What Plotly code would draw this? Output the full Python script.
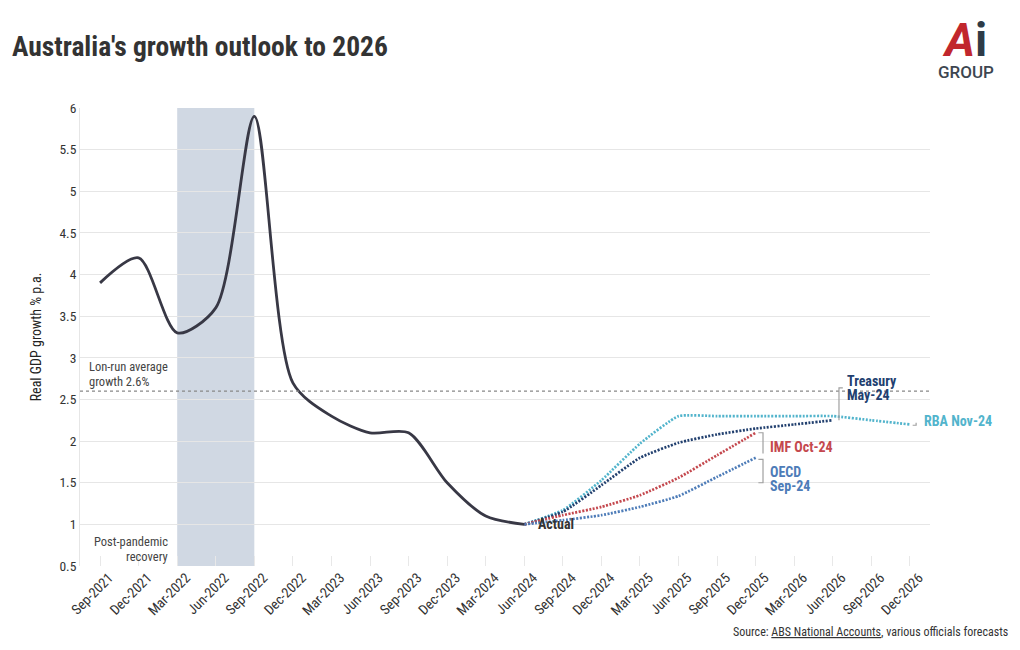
import plotly.graph_objects as go

quarters = ["Sep-2021", "Dec-2021", "Mar-2022", "Jun-2022", "Sep-2022", "Dec-2022",
            "Mar-2023", "Jun-2023", "Sep-2023", "Dec-2023", "Mar-2024", "Jun-2024",
            "Sep-2024", "Dec-2024", "Mar-2025", "Jun-2025", "Sep-2025", "Dec-2025",
            "Mar-2026", "Jun-2026", "Sep-2026", "Dec-2026"]

actual = [3.9, 4.2, 3.3, 3.6, 5.9, 2.7, 2.3, 2.1, 2.1, 1.5, 1.1, 1.0]

rba_nov24 = [1.0, 1.17, 1.53, 1.97, 2.3, 2.3, 2.3, 2.3, 2.3, 2.25, 2.2]        # Jun-2024 .. Dec-2026
treasury_may24 = [1.0, 1.15, 1.47, 1.8, 1.98, 2.08, 2.15, 2.2, 2.25]           # Jun-2024 .. Jun-2026
imf_oct24 = [1.0, 1.11, 1.21, 1.35, 1.56, 1.83, 2.1]                          # Jun-2024 .. Dec-2025
oecd_sep24 = [1.0, 1.05, 1.11, 1.21, 1.34, 1.57, 1.8]                         # Jun-2024 .. Dec-2025

long_run_avg = 2.6
shade_start, shade_end = "Mar-2022", "Sep-2022"

FONT = "Liberation Sans Narrow, Roboto Condensed, Roboto, sans-serif"
idx = {q: i for i, q in enumerate(quarters)}
start = idx["Jun-2024"]

C_ACT = "#383845"
C_RBA = "#52b4cc"
C_TRE = "#22406f"
C_IMF = "#c4484e"
C_OECD = "#4d7cb8"
DOT = "2px,1.5px"

fig = go.Figure()

def xs(n, s=start):
    return list(range(s, s + n))

for vals, col, nm in [(rba_nov24, C_RBA, "RBA Nov-24"), (treasury_may24, C_TRE, "Treasury May-24"),
                      (imf_oct24, C_IMF, "IMF Oct-24"), (oecd_sep24, C_OECD, "OECD Sep-24")]:
    fig.add_trace(go.Scatter(x=xs(len(vals)), y=vals, mode="lines", name=nm,
                             line=dict(color=col, width=2.7, dash=DOT, shape="spline", smoothing=0.45)))
fig.add_trace(go.Scatter(x=xs(len(actual), 0), y=actual, mode="lines", name="Actual",
                         line=dict(color=C_ACT, width=2.8, shape="spline", smoothing=0.8)))

# shaded recovery period
fig.add_shape(type="rect", xref="x", yref="paper", x0=idx[shade_start], x1=idx[shade_end],
              y0=0, y1=1, fillcolor="#d0d8e3", line_width=0, layer="below")
# long-run average line
fig.add_shape(type="line", xref="paper", yref="y", x0=0, x1=1, y0=long_run_avg, y1=long_run_avg,
              line=dict(color="#888888", width=1.3, dash="dot"))

# label brackets
br = dict(color="#a0a0a0", width=1.2)
fig.add_shape(type="path", path="M 19.16 2.25 L 19.16 2.64 L 19.26 2.64", line=br)
fig.add_shape(type="path", path="M 17.07 2.10 L 17.19 2.10 L 17.19 1.85", line=br)
fig.add_shape(type="path", path="M 17.07 1.78 L 17.19 1.78 L 17.19 1.50 L 17.07 1.50", line=br)
fig.add_shape(type="path", path="M 21.07 2.19 L 21.16 2.19 L 21.16 2.22", line=br)

ann = []
def lab(x, y, t, color, size=14, bold=True, xanchor="left"):
    ann.append(dict(x=x, y=y, xref="x", yref="y", text=f"<b>{t}</b>" if bold else t,
                    showarrow=False, xanchor=xanchor, yanchor="middle",
                    font=dict(family=FONT, size=size, color=color)))

lab(19.32, 2.72, "Treasury", C_TRE)
lab(19.32, 2.55, "May-24", C_TRE)
lab(21.31, 2.24, "RBA Nov-24", C_RBA)
lab(17.32, 1.93, "IMF Oct-24", C_IMF)
lab(17.32, 1.625, "OECD", C_OECD)
lab(17.32, 1.455, "Sep-24", C_OECD)
lab(11.3, 1.0, "Actual", "#333333")
lab(-0.34, 2.90, "Lon-run average", "#444444", size=12.5, bold=False)
lab(-0.34, 2.72, "growth 2.6%", "#444444", size=12.5, bold=False)
lab(1.82, 0.79, "Post-pandemic", "#444444", size=12.5, bold=False, xanchor="right")
lab(1.82, 0.61, "recovery", "#444444", size=12.5, bold=False, xanchor="right")

# title, source, logo (positioned relative to the plot area in pixels)
ann.append(dict(x=0, y=1, xref="paper", yref="paper", text="<b>Australia's growth outlook to 2026</b>",
                showarrow=False, xanchor="left", yanchor="middle", xshift=-70, yshift=62,
                font=dict(family=FONT, size=27.5, color="#333333")))
ann.append(dict(x=1, y=0, xref="paper", yref="paper",
                text="Source: <u>ABS National Accounts</u>, various officials forecasts",
                showarrow=False, xanchor="right", yanchor="middle", xshift=80, yshift=-66,
                font=dict(family=FONT, size=12, color="#333333")))
ann.append(dict(x=1, y=1, xref="paper", yref="paper",
                text=("<b><i><span style='color:#c1272d;font-size:46px'>A</span></i>"
                      "<span style='color:#2e3b47;font-size:46px'>i</span></b><br>GROUP"),
                showarrow=False, xanchor="center", yanchor="bottom", align="center",
                xshift=36, yshift=24,
                font=dict(family="Roboto, sans-serif", size=17, color="#3d4650", weight=500)))

fig.update_layout(
    width=1020, height=650,
    margin=dict(l=80, r=90, t=108, b=84),
    paper_bgcolor="white", plot_bgcolor="white",
    showlegend=False,
    font=dict(family=FONT, size=12, color="#333333"),
    annotations=ann,
    xaxis=dict(range=[-0.52, 21.52], tickvals=list(range(len(quarters))), ticktext=quarters,
               tickangle=-45, showgrid=False, zeroline=False, showline=False, automargin=False,
               ticks="inside", ticklen=10, tickcolor="#e8e8e8", ticklabelshift=9,
               tickfont=dict(family=FONT, size=14, color="#333333")),
    yaxis=dict(range=[0.5, 6], dtick=0.5, tick0=0.5, showgrid=True, gridcolor="#e6e6e6",
               zeroline=False, showline=True, linecolor="#e6e6e6", automargin=False,
               tickfont=dict(family=FONT, size=13.5, color="#333333"),
               title=dict(text="Real GDP growth % p.a.", standoff=14,
                          font=dict(family=FONT, size=14, color="#222222"))),
)

fig.write_html("out.html", config={"displayModeBar": False},
               post_script="document.body.style.margin='0';")
